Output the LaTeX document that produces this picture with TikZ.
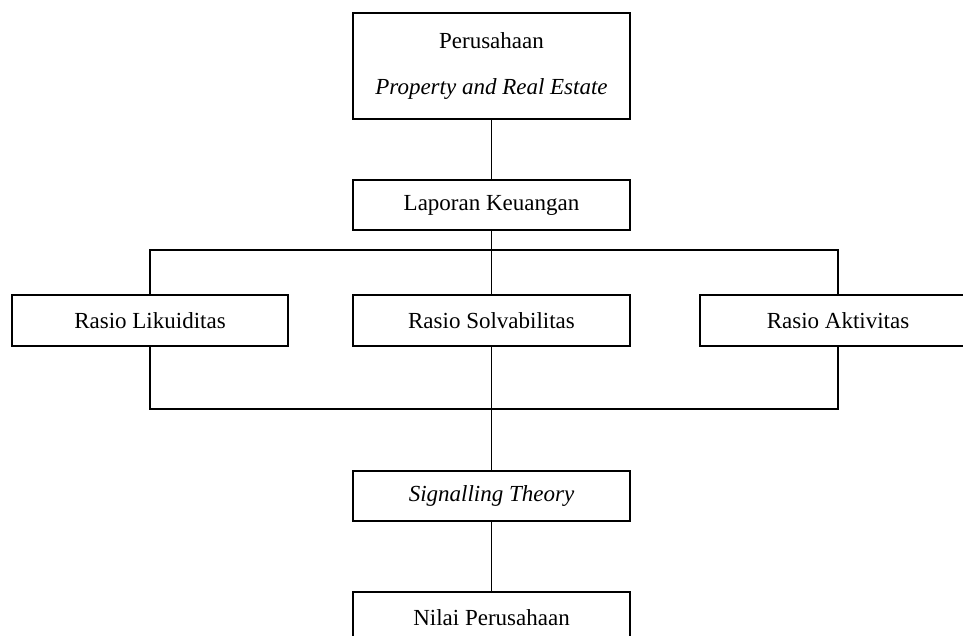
\documentclass[tikz,border=0pt]{standalone}
\usepackage{fontspec}
\setmainfont{Liberation Serif}
\usetikzlibrary{positioning}

\tikzset{
  kotak/.style={draw, line width=1.6pt, minimum width=277pt, minimum height=51pt,
    inner sep=0pt, align=center, font=\fontsize{23}{46}\selectfont},
  garis/.style={line width=1.6pt}
}

\begin{document}
\begin{tikzpicture}[x=1pt, y=-1pt]
  \clip (0,0) rectangle (963,636);
  \node[kotak, minimum height=106pt] (perusahaan) at (491.5,66)
    {Perusahaan\\\textit{Property and Real Estate}};
  \node[kotak, minimum height=50pt] (laporan) at (491.5,205) {Laporan Keuangan};
  \node[kotak] (solvabilitas) at (491.5,320.5) {Rasio Solvabilitas};
  \node[kotak, minimum width=276pt] (likuiditas) at (150,320.5) {Rasio Likuiditas};
  \node[kotak, minimum width=276pt] (aktivitas) at (838,320.5) {Rasio Aktivitas};
  \node[kotak, minimum height=50pt] (signalling) at (491.5,496) {\textit{Signalling Theory}};
  \node[kotak] (nilai) at (491.5,617.5) {Nilai Perusahaan};

  \draw[garis] (perusahaan) -- (laporan);
  \draw[garis] (laporan) -- (solvabilitas);
  \draw[garis] (likuiditas.north) -- ++(0,-44) -| (aktivitas.north);
  \draw[garis] (likuiditas.south) -- ++(0,62) -| (aktivitas.south);
  \draw[garis] (solvabilitas) -- (signalling);
  \draw[garis] (signalling) -- (nilai);
\end{tikzpicture}
\end{document}
